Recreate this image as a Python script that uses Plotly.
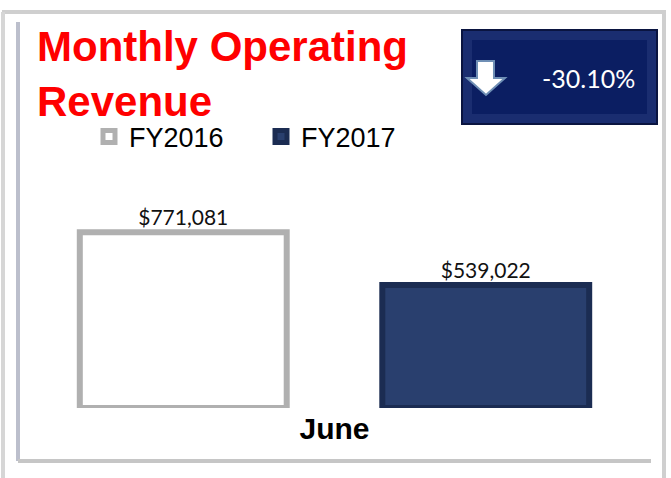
import plotly.graph_objects as go

# data
months = ["June"]
fy2016 = [771081]
fy2017 = [539022]
series_names = ["FY2016", "FY2017"]

change = (fy2017[0] - fy2016[0]) / fy2016[0] * 100

W, H = 671, 478
M = dict(l=32, r=34, t=180, b=70)
PW = W - M["l"] - M["r"]
PH = H - M["t"] - M["b"]


def px(x):
    # pixel -> paper x
    return (x - M["l"]) / PW


def py(y):
    # pixel -> paper y (pixel y measured from top)
    return (H - M["b"] - y) / PH


fig = go.Figure()
fig.add_trace(go.Bar(
    x=months, y=fy2016, name=series_names[0],
    marker=dict(color="#ffffff", line=dict(color="#b0b0b0", width=6)),
    texttemplate="$%{y:,}", textposition="outside",
    textfont=dict(family="Lato", size=21, color="#111111"),
))
fig.add_trace(go.Bar(
    x=months, y=fy2017, name=series_names[1],
    marker=dict(color="#293f6e", line=dict(color="#1b2c52", width=6)),
    texttemplate="$%{y:,}", textposition="outside",
    textfont=dict(family="Lato", size=21, color="#111111"),
))

shapes = []
# outer frame
for x0, y0, x1, y1, c in [(2, 12, 666, 12, "#cfcfcf"), (3, 12, 3, 478, "#d6d6d6"),
                          (664, 12, 664, 478, "#cfcfcf")]:
    shapes.append(dict(type="line", xref="paper", yref="paper", x0=px(x0), y0=py(y0),
                       x1=px(x1), y1=py(y1), line=dict(color=c, width=4), layer="below"))
# inner panel edges
shapes.append(dict(type="line", xref="paper", yref="paper", x0=px(18), y0=py(22),
                   x1=px(18), y1=py(461), line=dict(color="#bcbfcc", width=4), layer="below"))
shapes.append(dict(type="line", xref="paper", yref="paper", x0=px(18), y0=py(461),
                   x1=px(651), y1=py(461), line=dict(color="#c6c6c6", width=4), layer="below"))
# KPI box
shapes.append(dict(type="rect", xref="paper", yref="paper", x0=px(462), y0=py(30),
                   x1=px(657), y1=py(124), fillcolor="#1a2d70",
                   line=dict(color="#0a1440", width=2)))
shapes.append(dict(type="rect", xref="paper", yref="paper", x0=px(472), y0=py(40),
                   x1=px(647), y1=py(114), fillcolor="#0b1e62", line=dict(width=0)))
arrow = [(477, 61), (494, 61), (494, 78), (505, 78), (486, 95), (467, 78), (477, 78)]
path = "M" + " L".join(f"{px(a):.4f},{py(b):.4f}" for a, b in arrow) + " Z"
shapes.append(dict(type="path", xref="paper", yref="paper", path=path,
                   fillcolor="#ffffff", line=dict(color="#6f8fb5", width=2)))

fig.add_annotation(xref="paper", yref="paper", x=px(588), y=py(78),
                   xanchor="center", yanchor="middle",
                   text=f"{change:.2f}%", showarrow=False,
                   font=dict(family="Lato", size=25, color="#ffffff"))

fig.update_layout(
    width=W, height=H, margin=M,
    paper_bgcolor="white", plot_bgcolor="white",
    barmode="group", bargap=0, bargroupgap=0.316,
    title=dict(text="Monthly Operating<br>Revenue", x=37 / W,
               xanchor="left", y=1 - 61 / H, yanchor="middle",
               font=dict(family="Liberation Sans", size=42, color="#ff0000", weight="bold")),
    legend=dict(orientation="h", x=px(89), xanchor="left", y=py(137), yanchor="middle",
                font=dict(family="Liberation Sans", size=27, color="#000000"),
                entrywidth=127, bgcolor="rgba(0,0,0,0)"),
    xaxis=dict(showgrid=False, showline=False, ticks="",
               tickfont=dict(family="Liberation Sans", size=30, color="#000000", weight="bold")),
    yaxis=dict(range=[0, 1000000], visible=False),
    shapes=shapes,
)

fig.write_html("out.html", config={"displayModeBar": False},
               post_script="document.body.style.margin='0px';")
